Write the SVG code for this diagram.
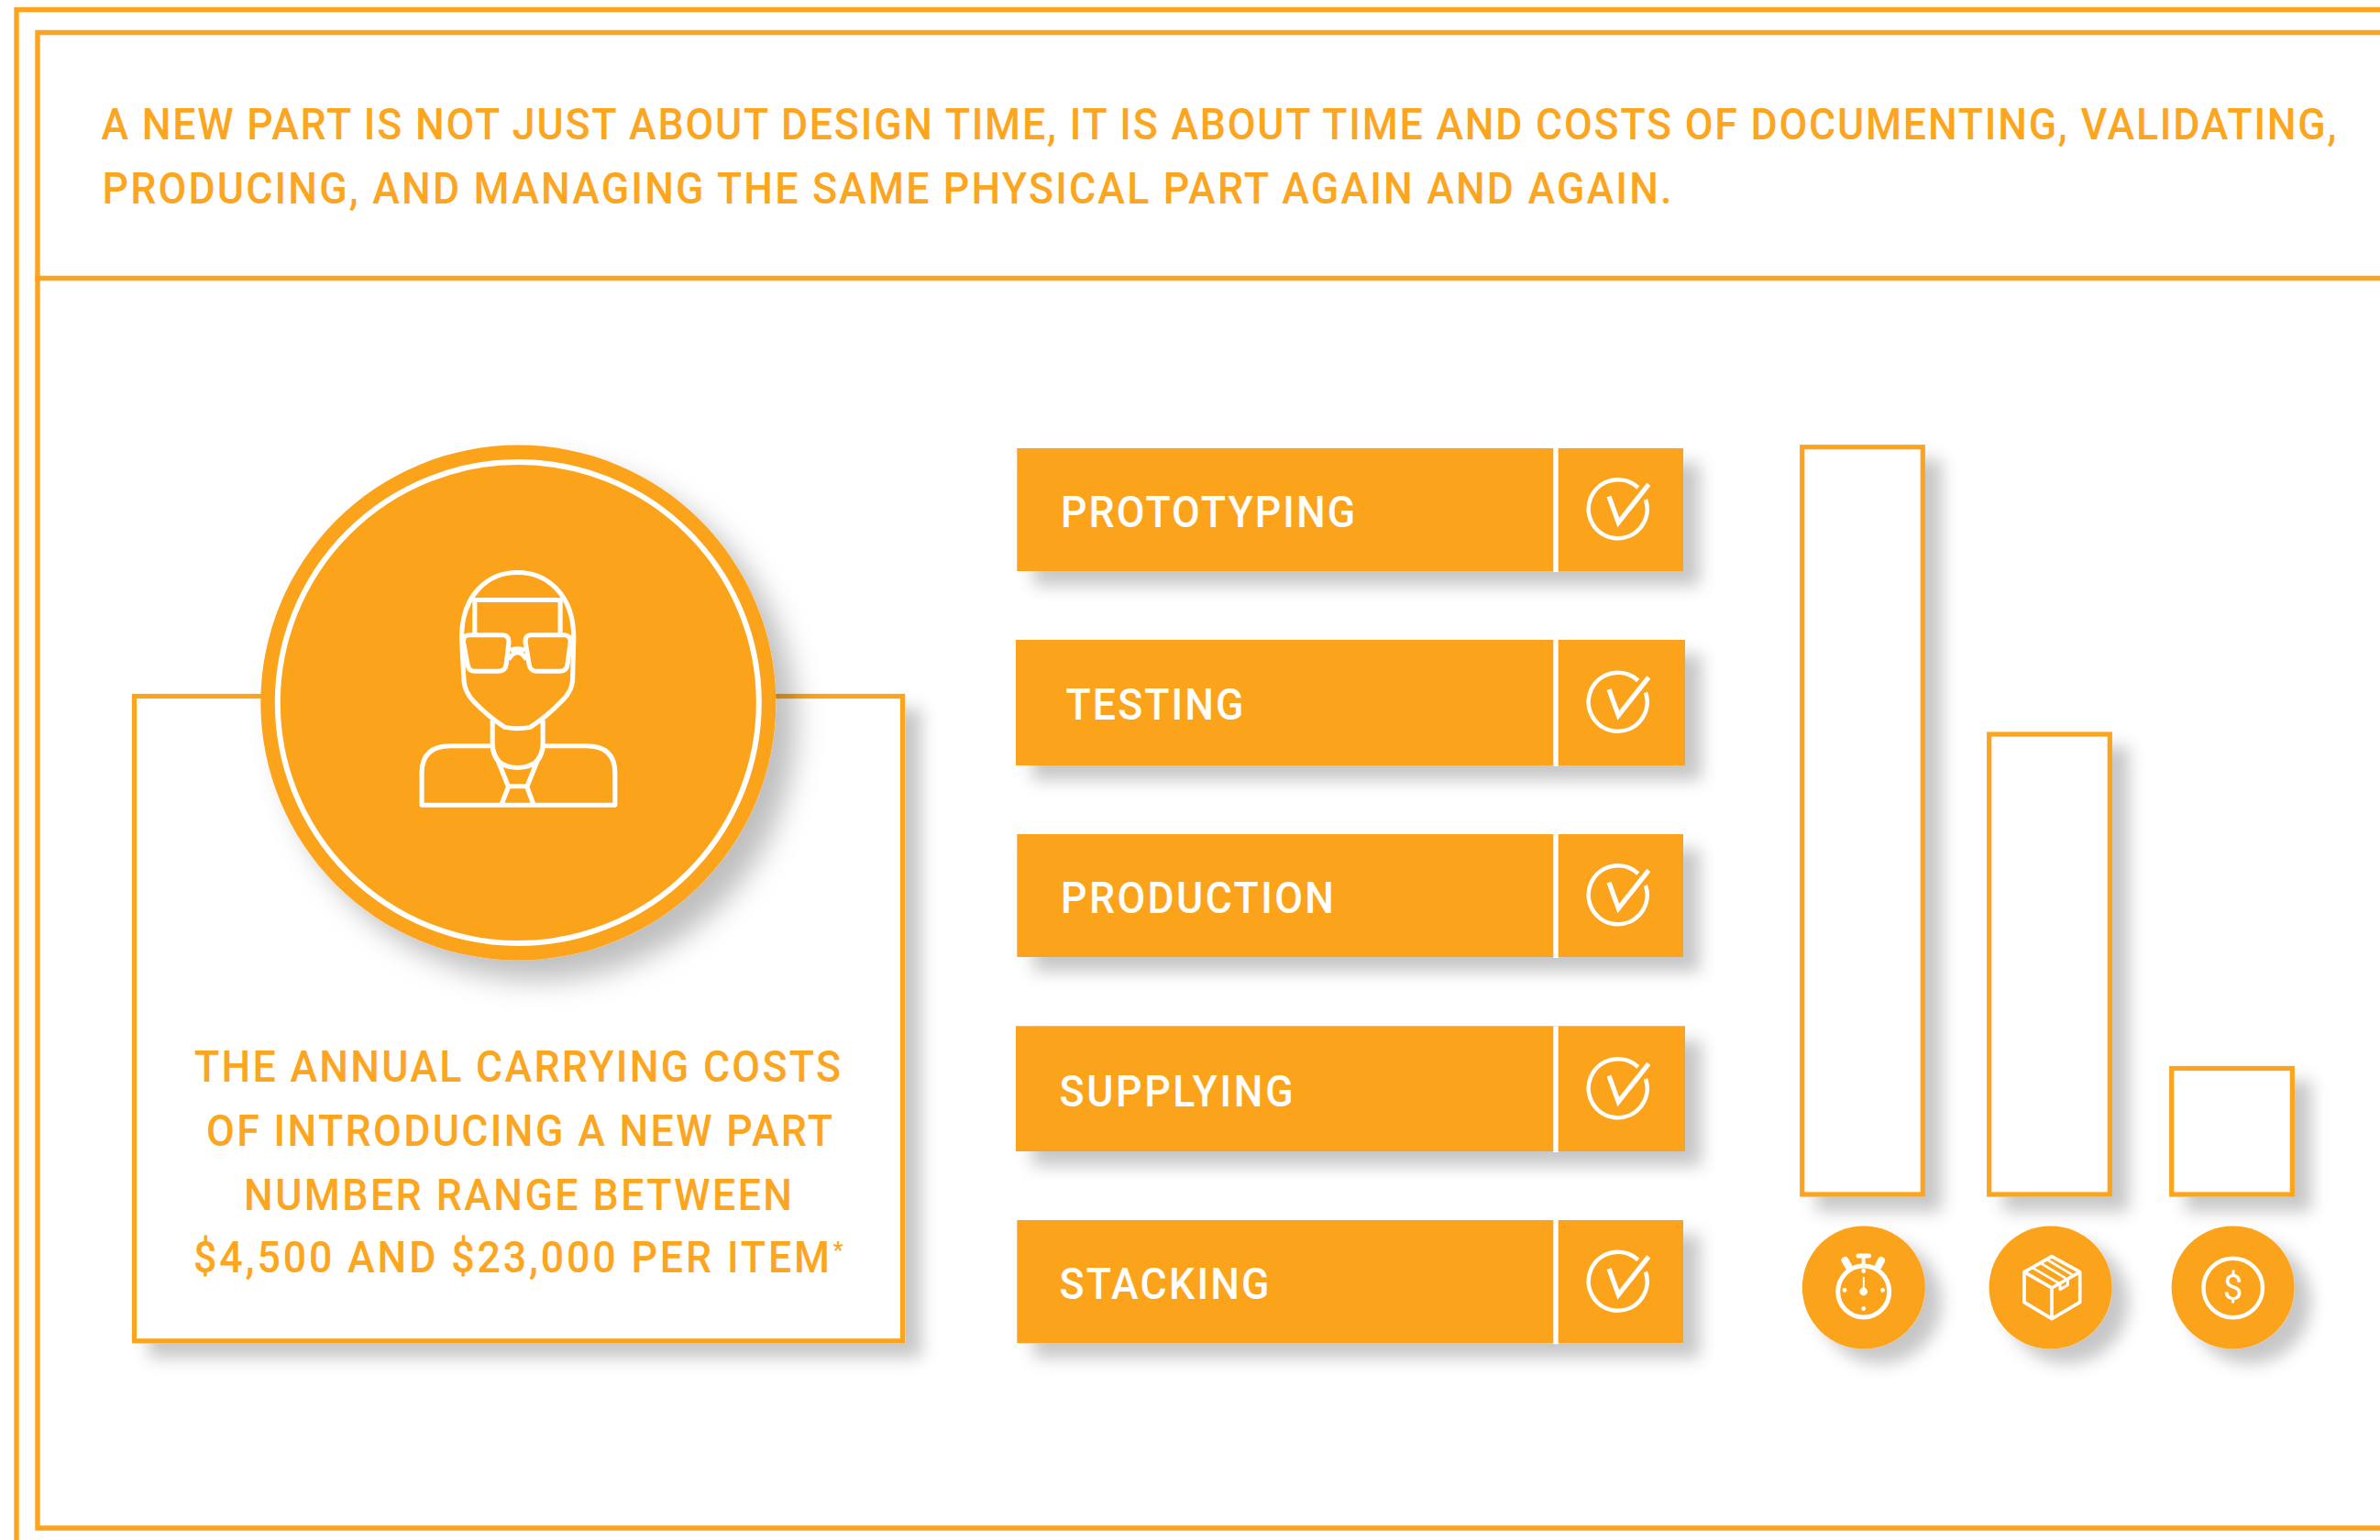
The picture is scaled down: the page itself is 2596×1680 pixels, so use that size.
<svg xmlns="http://www.w3.org/2000/svg" xmlns:xlink="http://www.w3.org/1999/xlink" width="2596" height="1680" viewBox="0 0 2596 1680">
<style>
.ln{fill:none;stroke:#fca41f;stroke-width:5.4}
.org{fill:#fca31e}
.box{fill:#fff;stroke:#fca41f;stroke-width:5.2}
.w{fill:none;stroke:#fff;stroke-linejoin:round}
text{font-family:Roboto,"Liberation Sans",sans-serif;font-weight:500;font-size:47.5px}
.nar{transform:scale(.94,1)}
.ot{fill:#fca51f}
.wt{fill:#fff}
</style>
<defs>
<filter id="sh" x="-30%" y="-30%" width="170%" height="170%">
<feDropShadow dx="18" dy="16" stdDeviation="9" flood-color="#000" flood-opacity="0.22"/>
</filter>
<filter id="shb" x="-30%" y="-30%" width="170%" height="170%">
<feDropShadow dx="22" dy="22" stdDeviation="15" flood-color="#000" flood-opacity="0.25"/>
</filter>
<g id="check">
<path class="w" stroke-width="4.6" d="M29.7 -11A32 32 0 1 1 21.4 -24"/>
<path fill="none" stroke="#fff" stroke-width="5.2" d="M-10.3 -14.3L0 14L33 -27.7"/>
</g>
</defs>
<rect width="2596" height="1680" fill="#fff"/>
<g id="frames">
<path class="ln" d="M2600 10.5H18V1684"/>
<path class="ln" d="M2600 35.5H41V1667H2600"/>
<path class="ln" d="M38 303.5H2600"/>
</g>
<g id="heading">
<text class="ot nar" x="117.55" y="152.3" textLength="2593.6" lengthAdjust="spacing">A NEW PART IS NOT JUST ABOUT DESIGN TIME, IT IS ABOUT TIME AND COSTS OF DOCUMENTING, VALIDATING,</text>
<text class="ot nar" x="118.6" y="221.7" textLength="1821.3" lengthAdjust="spacing">PRODUCING, AND MANAGING THE SAME PHYSICAL PART AGAIN AND AGAIN.</text>
</g>
<g id="cost-card">
<rect class="box" x="146.5" y="759.5" width="838" height="703.3" filter="url(#sh)"/>
<text class="ot nar" x="225.5" y="1180.5" textLength="750" lengthAdjust="spacing">THE ANNUAL CARRYING COSTS</text>
<text class="ot nar" x="239.4" y="1250" textLength="726.6" lengthAdjust="spacing">OF INTRODUCING A NEW PART</text>
<text class="ot nar" x="283" y="1320" textLength="636.2" lengthAdjust="spacing">NUMBER RANGE BETWEEN</text>
<text class="ot nar" x="224.5" y="1388.5"><tspan textLength="738.3" lengthAdjust="spacing">$4,500 AND $23,000 PER ITEM</tspan><tspan dx="1" dy="-15" font-size="26">*</tspan></text>
</g>
<g id="person">
<circle class="org" cx="565.3" cy="766.5" r="281" filter="url(#shb)"/>
<circle class="w" cx="565.3" cy="766.5" r="262.5" stroke-width="6"/>
<g stroke-width="13" transform="translate(260 470) scale(.3954 .3827)" fill="none" stroke="#fff" stroke-linejoin="round">
<path d="M770 404C690 404 616 465 616 590L622 710Q624 745 650 772Q690 815 735 845Q770 852 805 845Q850 815 890 772Q920 745 922 710L925 590C925 465 850 404 770 404Z"/>
<path d="M652 580V482H888V580"/>
<path fill="#fca31e" d="M638 582H728Q747 582 746 604L739 665Q737 685 718 685H652Q635 685 632 665L621 604Q619 582 638 582Z"/>
<path fill="#fca31e" d="M808 582H898Q917 582 916 604L908 665Q906 685 888 685H822Q805 685 802 665L792 604Q790 582 808 582Z"/>
<path d="M750 626Q770 616 790 626M745 652Q770 612 795 652"/>
<path d="M701 825V890Q701 960 770 960Q840 960 840 890V825"/>
<path d="M701 898H585Q506 898 506 975V1067H1039V975Q1039 898 960 898H840"/>
<path d="M701 905Q706 925 716 940L745 1015L725 1067M840 905Q835 925 825 940L796 1015L815 1067M745 1013H796"/>
</g>
</g>
<g id="row-prototyping">
<rect class="org" x="1109.3" y="489" width="726.7" height="134" filter="url(#sh)"/>
<rect x="1694.3" y="489" width="5.4" height="135" fill="#fff"/>
<use xlink:href="#check" href="#check" x="1765.3" y="556"/>
<text class="wt nar" x="1230.9" y="575" textLength="341.5" lengthAdjust="spacing">PROTOTYPING</text>
</g>
<g id="row-testing">
<rect class="org" x="1108" y="698" width="730" height="137" filter="url(#sh)"/>
<rect x="1694.3" y="698" width="5.4" height="138" fill="#fff"/>
<use xlink:href="#check" href="#check" x="1765.3" y="766.5"/>
<text class="wt nar" x="1236.7" y="785" textLength="206.4" lengthAdjust="spacing">TESTING</text>
</g>
<g id="row-production">
<rect class="org" x="1109.3" y="910" width="726.7" height="134" filter="url(#sh)"/>
<rect x="1694.3" y="910" width="5.4" height="135" fill="#fff"/>
<use xlink:href="#check" href="#check" x="1765.3" y="977"/>
<text class="wt nar" x="1230.9" y="996" textLength="317" lengthAdjust="spacing">PRODUCTION</text>
</g>
<g id="row-supplying">
<rect class="org" x="1108" y="1119.3" width="730" height="136.7" filter="url(#sh)"/>
<rect x="1694.3" y="1119.3" width="5.4" height="137.7" fill="#fff"/>
<use xlink:href="#check" href="#check" x="1765.3" y="1188"/>
<text class="wt nar" x="1229.3" y="1206.7" textLength="271.3" lengthAdjust="spacing">SUPPLYING</text>
</g>
<g id="row-stacking">
<rect class="org" x="1109.3" y="1331" width="726.7" height="134.3" filter="url(#sh)"/>
<rect x="1694.3" y="1331" width="5.4" height="135.3" fill="#fff"/>
<use xlink:href="#check" href="#check" x="1765.3" y="1398.5"/>
<text class="wt nar" x="1229.3" y="1417.3" textLength="243.6" lengthAdjust="spacing">STACKING</text>
</g>
<g id="bar-time">
<rect class="box" x="1965.7" y="487.7" width="131.6" height="815.3" filter="url(#sh)"/>
</g>
<g id="bar-parts">
<rect class="box" x="2169.7" y="801" width="131.6" height="502" filter="url(#sh)"/>
</g>
<g id="bar-cost">
<rect class="box" x="2368.7" y="1165.5" width="131.6" height="137.5" filter="url(#sh)"/>
</g>
<g id="icon-time">
<circle class="org" cx="2032.8" cy="1404.5" r="67" filter="url(#sh)"/>
<circle class="w" cx="2032.7" cy="1409" r="28" stroke-width="5"/>
<g fill="#fff">
<circle cx="2032.7" cy="1386.5" r="2.4"/><circle cx="2032.7" cy="1427.5" r="2.4"/><circle cx="2012" cy="1407.5" r="2.4"/><circle cx="2053.5" cy="1407.5" r="2.4"/>
<circle cx="2032.7" cy="1409" r="4.4"/>
<rect x="2031.8" y="1393" width="2" height="15"/>
<rect x="2024.5" y="1367.5" width="16.5" height="5" rx="2.5"/>
<rect x="2030.6" y="1370" width="4" height="12"/>
</g>
<path class="w" stroke-width="8" stroke-linecap="round" d="M2012.5 1375L2016 1381M2052 1375L2049 1381"/>
</g>
<g id="icon-parts">
<circle class="org" cx="2236.6" cy="1404.5" r="67" filter="url(#sh)"/>
<g class="w" stroke-width="11" transform="translate(2172 1340) scale(.3333)">
<path d="M198 92L290 143V242L198 296L108 242V143Z"/>
<path d="M108 143L198 195V296M198 195L290 143"/>
<path d="M133 128L219 178M160 113L243 163M182 102L265 152" stroke-width="8"/>
<path d="M225 178V200L250 186V165" stroke-width="9"/>
</g>
</g>
<g id="icon-cost">
<circle class="org" cx="2435.6" cy="1404.5" r="67" filter="url(#sh)"/>
<circle class="w" cx="2435.7" cy="1405" r="32.3" stroke-width="4.4"/>
<text class="wt" x="2435.7" y="1417.5" text-anchor="middle" style="font-size:38px;font-weight:400">$</text>
</g>
</svg>
